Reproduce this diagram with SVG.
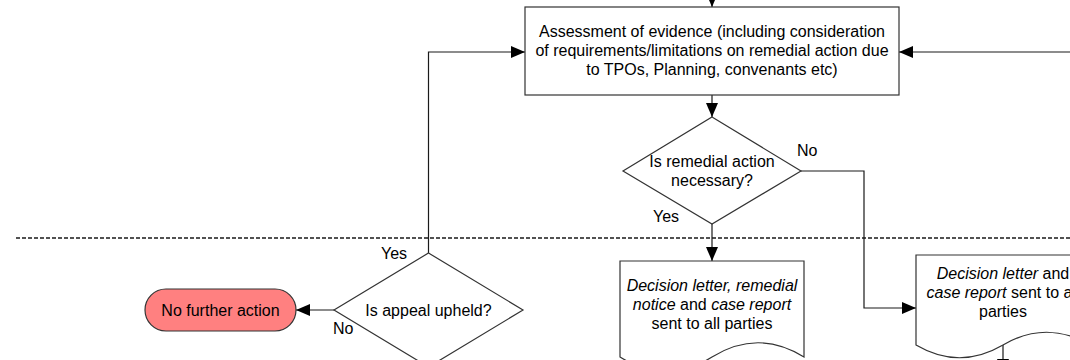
<svg xmlns="http://www.w3.org/2000/svg" width="1070" height="360" viewBox="0 0 1070 360">
<style>
.bg{fill:#ffffff}
.shape{fill:#ffffff;stroke:#333333;stroke-width:1.2}
.term{fill:#ff8080;stroke:#333333;stroke-width:1.2}
.conn{fill:none;stroke:#1a1a1a;stroke-width:1.2}
.sep{fill:none;stroke:#1a1a1a;stroke-width:1.6;stroke-dasharray:4,2}
.t{font-family:"Liberation Sans",Arial,sans-serif;font-size:16px;fill:#000000;text-anchor:middle}
.lbl{font-family:"Liberation Sans",Arial,sans-serif;font-size:16px;fill:#000000}
.i{font-style:italic}
</style>
<defs>
<marker id="arr" markerWidth="14" markerHeight="12" refX="14" refY="6" orient="auto" markerUnits="userSpaceOnUse">
<path d="M0,0 L14,6 L0,12 Z" fill="#000000"/>
</marker>
</defs>
<rect class="bg" x="0" y="0" width="1070" height="360"/>
<path class="sep" d="M16,238 L1070,238"/>
<g id="connectors">
<path class="conn" d="M712,-12 L712,7" marker-end="url(#arr)"/>
<path class="conn" d="M712,95 L712,117" marker-end="url(#arr)"/>
<path class="conn" d="M712,224 L712,261" marker-end="url(#arr)"/>
<path class="conn" d="M801,171 L864,171 L864,308 L916,308" marker-end="url(#arr)"/>
<path class="conn" d="M1072,52 L899,52" marker-end="url(#arr)"/>
<path class="conn" d="M428.5,253 L428.5,52 L525,52" marker-end="url(#arr)"/>
<path class="conn" d="M334,310 L296,310" marker-end="url(#arr)"/>
<path class="conn" d="M1003,345 L1003,373" marker-end="url(#arr)"/>
<text class="lbl" x="797" y="156">No</text>
<text class="lbl" x="653" y="222">Yes</text>
<text class="lbl" x="381" y="259">Yes</text>
<text class="lbl" x="333" y="334">No</text>
</g>
<g id="assessment">
<rect class="shape" x="525" y="7" width="374" height="88"/>
<text class="t" x="712" y="37">Assessment of evidence (including consideration</text>
<text class="t" x="712" y="56">of requirements/limitations on remedial action due</text>
<text class="t" x="712" y="75">to TPOs, Planning, convenants etc)</text>
</g>
<g id="remedial-decision">
<polygon class="shape" points="712,117 801,171 712,224 623,171"/>
<text class="t" x="712" y="167">Is remedial action</text>
<text class="t" x="712" y="186">necessary?</text>
</g>
<g id="doc-remedial">
<path class="shape" d="M620,261 L804,261 L804,357 C773.3,338 742.7,338 712,357 C681.3,376 650.7,376 620,357 Z"/>
<text class="t" x="712" y="291"><tspan class="i">Decision letter, remedial</tspan></text>
<text class="t" x="712" y="310"><tspan class="i">notice</tspan> and <tspan class="i">case report</tspan></text>
<text class="t" x="712" y="329">sent to all parties</text>
</g>
<g id="doc-no-action">
<path class="shape" d="M916,255 L1090,255 L1090,345 C1061,328 1032,328 1003,345 C974,362 945,362 916,345 Z"/>
<text class="t" x="1003" y="279"><tspan class="i">Decision letter</tspan> and</text>
<text class="t" x="1003" y="298"><tspan class="i">case report</tspan> sent to all</text>
<text class="t" x="1003" y="317">parties</text>
</g>
<g id="appeal-decision">
<polygon class="shape" points="428.5,253 523,310 428.5,367 334,310"/>
<text class="t" x="428.5" y="316">Is appeal upheld?</text>
</g>
<g id="no-further-action">
<rect class="term" x="145" y="289" width="151" height="42" rx="21" ry="21"/>
<text class="t" x="220.5" y="316">No further action</text>
</g>
</svg>
